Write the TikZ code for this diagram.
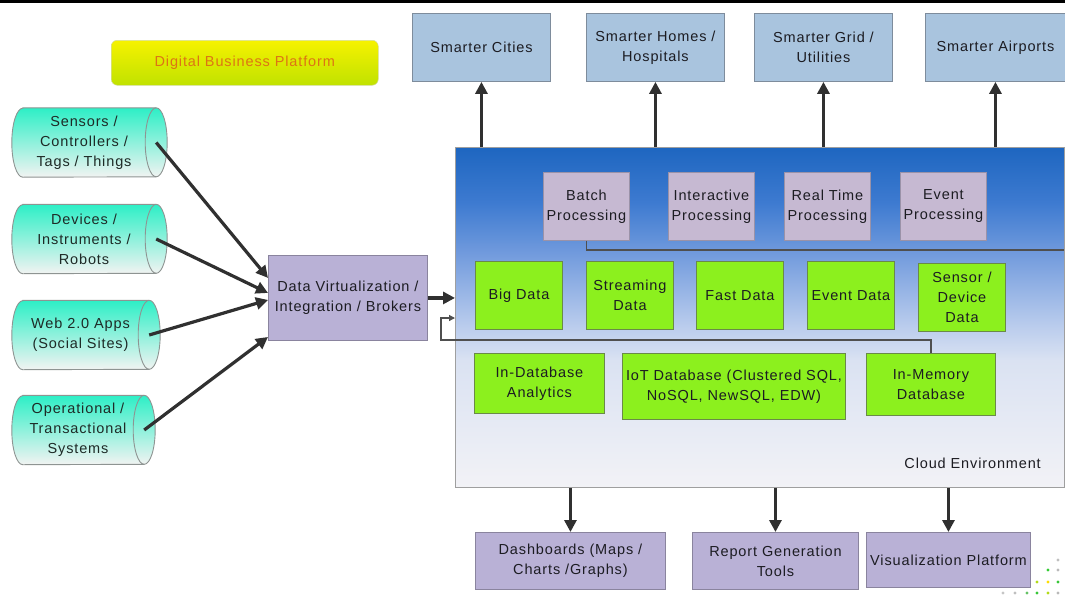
\documentclass[tikz,border=0pt]{standalone}
\usepackage{fontspec}
\setmainfont{Liberation Sans}[LetterSpace=6]
\usetikzlibrary{arrows.meta,calc}

\definecolor{txt}{HTML}{1C1C22}
\definecolor{appfill}{HTML}{A9C4DE}
\definecolor{appdraw}{HTML}{7E8C9C}
\definecolor{procfill}{HTML}{C6B9D2}
\definecolor{procdraw}{HTML}{9A92A8}
\definecolor{datafill}{HTML}{8CF01E}
\definecolor{datadraw}{HTML}{6A8A48}
\definecolor{toolfill}{HTML}{B9B1D6}
\definecolor{tooldraw}{HTML}{8A849E}
\definecolor{cyltop}{HTML}{2DEFC6}
\definecolor{cylbot}{HTML}{F2F3F2}
\definecolor{cyldraw}{HTML}{8E9492}
\definecolor{cyltext}{HTML}{1E2A26}
\definecolor{arrowc}{HTML}{303030}
\definecolor{dbptop}{HTML}{F6F200}
\definecolor{dbpbot}{HTML}{C0E200}
\definecolor{dbptext}{HTML}{DD7414}
\definecolor{cloudA}{HTML}{F2F2F6}
\definecolor{cloudB}{HTML}{DAE2F2}
\definecolor{cloudC}{HTML}{B5C9EC}
\definecolor{cloudD}{HTML}{6D98DC}
\definecolor{cloudE}{HTML}{3D7AD0}
\definecolor{cloudF}{HTML}{1E66C0}

% vertical fade of the cloud panel, light at the bottom, deep blue at the top
\pgfdeclareverticalshading{cloudfade}{100bp}{color(0bp)=(cloudA); color(25bp)=(cloudA);
  color(43.7bp)=(cloudB); color(49.5bp)=(cloudC); color(60bp)=(cloudD);
  color(67bp)=(cloudE); color(75bp)=(cloudF); color(100bp)=(cloudF)}

\pgfdeclarelayer{back}
\pgfsetlayers{back,main}

\tikzset{
  lbl/.style={font=\fontsize{14.5}{20}\selectfont, text=txt, align=center, inner sep=1pt},
  boxbase/.style={lbl, rectangle, line width=0.9, anchor=north west},
  appbox/.style={boxbase, fill=appfill, draw=appdraw},
  procbox/.style={boxbase, fill=procfill, draw=procdraw},
  databox/.style={boxbase, fill=datafill, draw=datadraw},
  toolbox/.style={boxbase, fill=toolfill, draw=tooldraw},
  srcbox/.style={lbl, rectangle, minimum height=69, text=cyltext},
  canbody/.style={top color=cyltop, bottom color=cylbot, draw=cyldraw, line width=0.9},
  canrim/.style={draw=cyldraw, line width=0.9},
  flow/.style={draw=arrowc, line width=3.2, -{Triangle[length=12,width=12]}},
  thinline/.style={draw=arrowc!85, line width=1.3},
  feed/.style={thinline, -{Triangle[length=6,width=6]}}
}

% lying can drawn round a source node: the node spans the body, the front
% face is an ellipse centred on its east side
\newcommand\srccan[1]{%
  \path[canbody] ($(#1.north west)+(11,0)$) -- (#1.north east)
    arc[start angle=-90, end angle=90, x radius=11, y radius=34.5]
    -- ($(#1.south west)+(11,0)$)
    arc[start angle=90, end angle=270, x radius=11, y radius=34.5] -- cycle;
  \draw[canrim] (#1.north east)
    arc[start angle=-90, end angle=-270, x radius=11, y radius=34.5];}

\begin{document}
\begin{tikzpicture}[x=1pt,y=-1pt]
\useasboundingbox (0,0) rectangle (1065,597);

% rule along the top edge
\draw[line width=2.6] (0,1.6) -- (1065,1.6);

% title banner
\node[lbl, anchor=north west, rounded corners=6, top color=dbptop, bottom color=dbpbot,
  draw=dbpbot!70!black!35, line width=0.5, minimum width=267, minimum height=45,
  text=dbptext] (dbp) at (111,40) {Digital Business Platform};

% application domains
\node[appbox, minimum width=138, minimum height=68] (cities)   at (412,13) {Smarter Cities};
\node[appbox, minimum width=138, minimum height=68] (homes)    at (586,13) {Smarter Homes /\\Hospitals};
\node[appbox, minimum width=138, minimum height=68] (grid)     at (754,13) {Smarter Grid /\\Utilities};
\node[appbox, minimum width=140, minimum height=68] (airports) at (925,13) {Smarter Airports};

% cloud panel
\node[anchor=north west, draw=gray!75, line width=0.9, shading=cloudfade,
  minimum width=609, minimum height=340, inner sep=0] (cloud) at (455,147) {};
\node[lbl, anchor=east] (cloudlbl) at (1042,463) {Cloud Environment};

% processing styles
\node[procbox, minimum width=86, minimum height=68] (batch) at (543,172) {Batch\\Processing};
\node[procbox, minimum width=86, minimum height=68] (inter) at (668,172) {Interactive\\Processing};
\node[procbox, minimum width=86, minimum height=68] (rt)    at (784,172) {Real Time\\Processing};
\node[procbox, minimum width=86, minimum height=68] (evp)   at (900,172) {Event\\Processing};

% data kinds
\node[databox, minimum width=87, minimum height=68] (big)    at (475,261) {Big Data};
\node[databox, minimum width=87, minimum height=68] (stream) at (586,261) {Streaming\\Data};
\node[databox, minimum width=87, minimum height=68] (fast)   at (696,261) {Fast Data};
\node[databox, minimum width=87, minimum height=68] (evd)    at (807,261) {Event Data};
\node[databox, minimum width=87, minimum height=68] (sensd)  at (918,263) {Sensor /\\Device\\Data};

% data stores
\node[databox, minimum width=130, minimum height=60] (indb) at (474,353) {In-Database\\Analytics};
\node[databox, minimum width=223, minimum height=66] (iot)  at (622,353) {IoT Database (Clustered SQL,\\NoSQL, NewSQL, EDW)};
\node[databox, minimum width=129, minimum height=62] (mem)  at (866,353) {In-Memory\\Database};

% consumers
\node[toolbox, minimum width=190, minimum height=57] (dash)   at (475,532) {Dashboards (Maps /\\Charts /Graphs)};
\node[toolbox, minimum width=166, minimum height=57] (report) at (692,532) {Report Generation\\Tools};
\node[toolbox, minimum width=164, minimum height=55] (viz)    at (866,532) {Visualization Platform};

% integration layer
\node[toolbox, minimum width=159, minimum height=85] (dv) at (268,255) {Data Virtualization /\\Integration / Brokers};

% data sources
\node[srcbox, minimum width=144] (sens) at (84,142.5) {Sensors /\\Controllers /\\Tags / Things};
\node[srcbox, minimum width=144] (dev)  at (84,239)   {Devices /\\Instruments /\\Robots};
\node[srcbox, minimum width=137] (web)  at (80.5,335) {Web 2.0 Apps\\(Social Sites)};
\node[srcbox, minimum width=132] (ops)  at (78,430)   {Operational /\\Transactional\\Systems};

\begin{pgfonlayer}{back}
  \srccan{sens}
  \srccan{dev}
  \srccan{web}
  \srccan{ops}
\end{pgfonlayer}

% sources into the integration layer
\draw[flow] (sens.east) -- ($(dv.west)+(0,-20)$);
\draw[flow] (dev.east)  -- ($(dv.west)+(0,-5)$);
\draw[flow] (web.east)  -- ($(dv.west)+(0,2)$);
\draw[flow] (ops.east)  -- ($(dv.west)+(0,39)$);

% integration layer into the cloud
\draw[flow] (dv.east) -- (dv.east -| cloud.west);

% cloud out to the application domains
\draw[flow] (cities.south |- cloud.north)   -- (cities.south);
\draw[flow] (homes.south |- cloud.north)    -- (homes.south);
\draw[flow] (grid.south |- cloud.north)     -- (grid.south);
\draw[flow] (airports.south |- cloud.north) -- (airports.south);

% cloud out to the consumers
\draw[flow] (dash.north |- cloud.south)   -- (dash.north);
\draw[flow] (report.north |- cloud.south) -- (report.north);
\draw[flow] (viz.north |- cloud.south)    -- (viz.north);

% rule under the processing row
\coordinate (procrule) at (1064,250);
\draw[thinline] (batch.south) |- (procrule);

% in-memory feedback into the cloud
\coordinate (fbk) at (441,318);
\draw[feed] (mem.north) -- ++(0,-13) -| (fbk) -- (fbk -| cloud.west);

% dotted corner ornament
\foreach \px/\py/\c in {1058/560/gray!50, 1048/570/green!60!gray, 1058/570/gray!55,
  1037/582/yellow!70!green, 1048/582/yellow!80!orange, 1058/582/green!55!gray,
  1003/593/gray!45, 1015/593/gray!50, 1027/593/green!60!black!60, 1037/593/green!55!gray,
  1048/593/yellow!70!green, 1058/593/gray!55}
  \fill[\c] (\px,\py) circle (1.6);
\end{tikzpicture}
\end{document}
